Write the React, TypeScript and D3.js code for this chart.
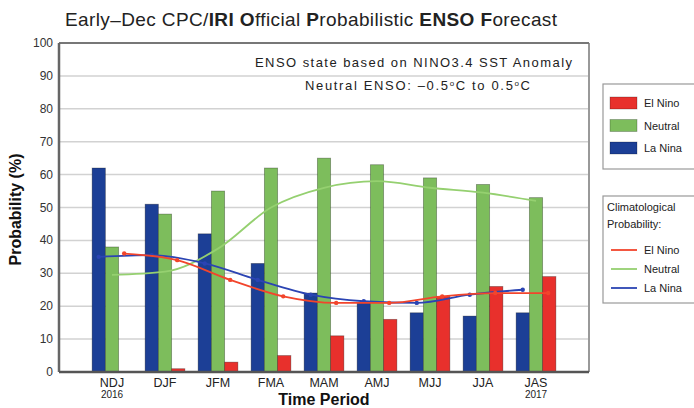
import * as d3 from "d3";
import React from "react";

const categories = ["NDJ", "DJF", "JFM", "FMA", "MAM", "AMJ", "MJJ", "JJA", "JAS"];
const yearLabels = ["2016", "", "", "", "", "", "", "", "2017"];

// forecast probabilities (%)
const laNina = [62, 51, 42, 33, 24, 21, 18, 17, 18];
const neutral = [38, 48, 55, 62, 65, 63, 59, 57, 53];
const elNino = [0, 1, 3, 5, 11, 16, 23, 26, 29];

// climatological probabilities (%)
const climElNino = [36, 34, 28, 23, 21, 21, 23, 24, 24];
const climNeutral = [29.5, 30.5, 37.5, 50, 56, 58, 56, 54.5, 52];
const climLaNina = [35, 35.5, 33, 28, 23.5, 21.5, 21, 23.5, 25];

const yTicks = [0, 10, 20, 30, 40, 50, 60, 70, 80, 90, 100];

const COLORS = {
  laNina: "#1c3f96",
  neutral: "#7dbd5c",
  elNino: "#e8302c",
  climElNino: "#f2452c",
  climNeutral: "#95d070",
  climLaNina: "#2b44b3",
};

const FONT = "'Liberation Sans', Arial, Helvetica, sans-serif";

const App: React.FC = () => {
  const width = 694;
  const height = 408;
  const plot = { left: 59, right: 589, top: 43, bottom: 372 };

  const x = d3.scaleLinear().domain([-1, 9]).range([plot.left, plot.right]);
  const y = d3.scaleLinear().domain([0, 100]).range([plot.bottom, plot.top]);
  const barW = x(0.25) - x(0);

  const series = [
    { name: "laNina", values: laNina, offset: -0.375, color: COLORS.laNina },
    { name: "neutral", values: neutral, offset: -0.125, color: COLORS.neutral },
    { name: "elNino", values: elNino, offset: 0.125, color: COLORS.elNino },
  ];

  const climSeries = [
    { name: "neutral", values: climNeutral, offset: 0, color: COLORS.climNeutral, dots: false },
    { name: "laNina", values: climLaNina, offset: -0.25, color: COLORS.climLaNina, dots: true },
    { name: "elNino", values: climElNino, offset: 0.23, color: COLORS.climElNino, dots: true },
  ];

  const line = (vals: number[], offset: number) =>
    d3
      .line<number>()
      .x((_, i) => x(i + offset))
      .y((d) => y(d))
      .curve(d3.curveMonotoneX)(vals) ?? "";

  return (
    <svg
      width={width}
      height={height}
      style={{ position: "absolute", left: 0, top: 0, background: "#fff", fontFamily: FONT }}
    >
      {/* title */}
      <text x={65} y={26} fontSize={19} fill="#222" textLength={492} lengthAdjust="spacing">
        Early–Dec CPC/<tspan fontWeight="bold">IRI</tspan> <tspan fontWeight="bold">O</tspan>fficial{" "}
        <tspan fontWeight="bold">P</tspan>robabilistic <tspan fontWeight="bold">ENSO</tspan>{" "}
        <tspan fontWeight="bold">F</tspan>orecast
      </text>

      {/* gridlines */}
      {yTicks.map((t) => (
        <line key={t} x1={plot.left} x2={plot.right} y1={y(t)} y2={y(t)} stroke="#d2d2d2" strokeWidth={1.5} />
      ))}

      {/* y tick labels */}
      {yTicks.map((t) => (
        <text key={t} x={plot.left - 6} y={y(t) + 4} textAnchor="end" fontSize={12} fill="#333">
          {t}
        </text>
      ))}

      {/* annotations */}
      <text x={255} y={67} fontSize={13} fill="#222" textLength={317} lengthAdjust="spacing">
        ENSO state based on NINO3.4 SST Anomaly
      </text>
      <text x={305} y={90} fontSize={13} fill="#222" textLength={225} lengthAdjust="spacing">
        Neutral ENSO: –0.5<tspan dy={-4} fontSize={8}>o</tspan>
        <tspan dy={4}>C to 0.5</tspan>
        <tspan dy={-4} fontSize={8}>o</tspan>
        <tspan dy={4}>C</tspan>
      </text>

      {/* bars */}
      {series.map((s) =>
        s.values.map((v, i) => (
          <rect
            key={s.name + i}
            x={x(i + s.offset)}
            y={y(v)}
            width={barW}
            height={y(0) - y(v)}
            fill={s.color}
            stroke="#000"
            strokeOpacity={0.35}
            strokeWidth={0.8}
          />
        ))
      )}

      {/* climatology lines */}
      {climSeries.map((s) => (
        <g key={s.name}>
          <path d={line(s.values, s.offset)} fill="none" stroke={s.color} strokeWidth={1.8} />
          {s.dots &&
            s.values.map((v, i) => (
              <circle key={i} cx={x(i + s.offset)} cy={y(v)} r={2.2} fill={s.color} />
            ))}
        </g>
      ))}

      {/* plot frame */}
      <line x1={plot.right} x2={plot.right} y1={plot.top} y2={plot.bottom} stroke="#999" strokeWidth={2} />
      <line x1={plot.left} x2={plot.right} y1={plot.top} y2={plot.top} stroke="#777" strokeWidth={2} />
      <line x1={plot.left} x2={plot.left} y1={plot.top} y2={plot.bottom} stroke="#666" strokeWidth={2.5} />
      <line x1={plot.left} x2={plot.right} y1={plot.bottom} y2={plot.bottom} stroke="#555" strokeWidth={2.5} />

      {/* x labels */}
      {categories.map((c, i) => (
        <text key={c} x={x(i)} y={387} textAnchor="middle" fontSize={12.5} fill="#222">
          {c}
        </text>
      ))}
      {yearLabels.map((yl, i) =>
        yl ? (
          <text key={yl} x={x(i)} y={398} textAnchor="middle" fontSize={10} fill="#222">
            {yl}
          </text>
        ) : null
      )}
      <text x={(plot.left + plot.right) / 2} y={405} textAnchor="middle" fontSize={16} fontWeight="bold" fill="#111">
        Time Period
      </text>
      <text
        transform={`translate(21, ${(plot.top + plot.bottom) / 2 + 2}) rotate(-90)`}
        textAnchor="middle"
        fontSize={16}
        fontWeight="bold"
        fill="#111"
      >
        Probability (%)
      </text>

      {/* legend: forecast */}
      <rect x={603} y={84} width={100} height={85} fill="#fff" stroke="#999" strokeWidth={1.2} />
      {[
        { label: "El Nino", color: COLORS.elNino },
        { label: "Neutral", color: COLORS.neutral },
        { label: "La Nina", color: COLORS.laNina },
      ].map((d, i) => (
        <g key={d.label} transform={`translate(610, ${97 + i * 22.5})`}>
          <rect width={27} height={12} fill={d.color} stroke="#000" strokeOpacity={0.3} strokeWidth={0.8} />
          <text x={34} y={10} fontSize={11} fill="#222">
            {d.label}
          </text>
        </g>
      ))}

      {/* legend: climatology */}
      <rect x={603} y={196} width={100} height={107} fill="#fff" stroke="#999" strokeWidth={1.2} />
      <text x={607} y={211} fontSize={11} fill="#222">
        Climatological
      </text>
      <text x={607} y={228} fontSize={11} fill="#222">
        Probability:
      </text>
      {[
        { label: "El Nino", color: COLORS.climElNino },
        { label: "Neutral", color: COLORS.climNeutral },
        { label: "La Nina", color: COLORS.climLaNina },
      ].map((d, i) => (
        <g key={d.label} transform={`translate(611, ${250 + i * 19})`}>
          <line x1={0} x2={26} y1={0} y2={0} stroke={d.color} strokeWidth={1.8} />
          <text x={33} y={4} fontSize={11} fill="#222">
            {d.label}
          </text>
        </g>
      ))}
    </svg>
  );
};

export default App;
